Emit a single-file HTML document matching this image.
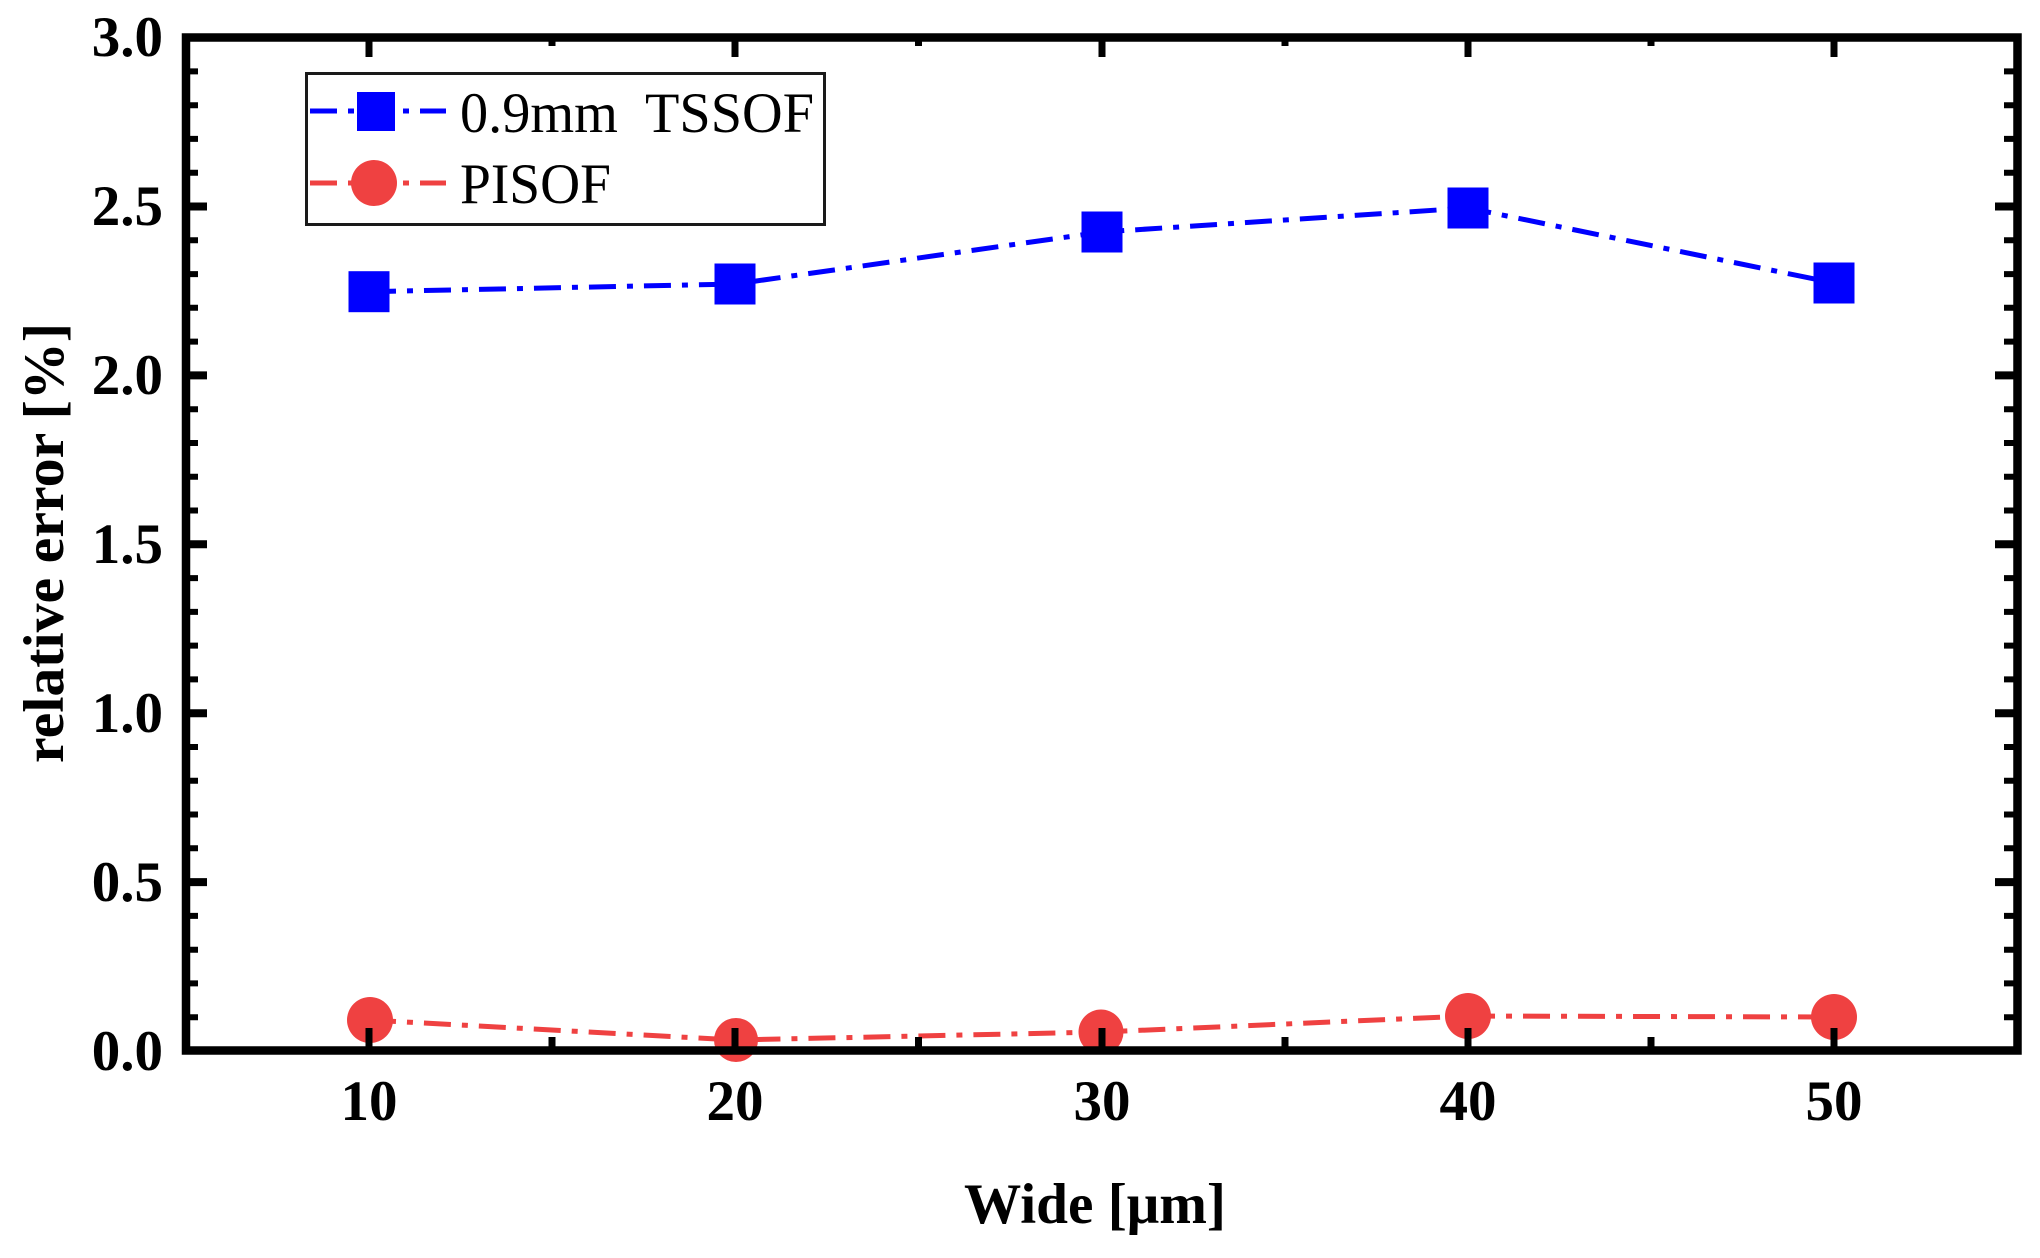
<!DOCTYPE html>
<html>
<head>
<meta charset="utf-8">
<style>
  html, body { margin: 0; padding: 0; background: #ffffff; }
  svg { display: block; }
  text { font-family: "Liberation Serif", "Times New Roman", serif; fill: #000; }
</style>
</head>
<body>
<svg width="2040" height="1258" viewBox="0 0 2040 1258" xmlns="http://www.w3.org/2000/svg">
  <rect x="0" y="0" width="2040" height="1258" fill="#ffffff"/>

  <!-- series lines -->
  <polyline points="369,291.7 735,284 1102,232 1468,208 1834,283" fill="none" stroke="#0000ff" stroke-width="5" stroke-dasharray="27 11 6 11"/>
  <polyline points="369,1020 735,1040 1102,1032 1468,1016 1834,1017" fill="none" stroke="#ef4141" stroke-width="5" stroke-dasharray="27 11 6 11"/>

  <!-- blue squares -->
  <g fill="#0000ff">
    <rect x="348.5" y="271.2" width="41" height="41"/>
    <rect x="714.5" y="263.5" width="41" height="41"/>
    <rect x="1081.5" y="211.5" width="41" height="41"/>
    <rect x="1447.5" y="187.5" width="41" height="41"/>
    <rect x="1813.5" y="262.5" width="41" height="41"/>
  </g>
  <!-- red circles -->
  <g fill="#ef4141">
    <circle cx="370" cy="1020" r="23"/>
    <circle cx="736" cy="1040" r="22"/>
    <circle cx="1101" cy="1032" r="22.5"/>
    <circle cx="1468" cy="1016" r="23"/>
    <circle cx="1834" cy="1017" r="23"/>
  </g>

  <!-- frame -->
  <rect x="186" y="37.5" width="1831.5" height="1013" fill="none" stroke="#000" stroke-width="8.5"/>

  <!-- ticks -->
  <g stroke="#000" fill="none">
    <path stroke-width="6" d="M186 1017.2h12M186 983.4h12M186 949.7h12M186 915.9h12M186 848.3h12M186 814.5h12M186 780.8h12M186 747h12M186 679.4h12M186 645.6h12M186 611.9h12M186 578.1h12M186 510.5h12M186 476.7h12M186 443h12M186 409.2h12M186 341.6h12M186 307.8h12M186 274.1h12M186 240.3h12M186 172.7h12M186 138.9h12M186 105.2h12M186 71.4h12"/>
    <path stroke-width="8" d="M186 882.1h21M186 713.2h21M186 544.3h21M186 375.4h21M186 206.5h21"/>
    <path stroke-width="6" d="M2017 1017.2h-13M2017 983.4h-13M2017 949.7h-13M2017 915.9h-13M2017 848.3h-13M2017 814.5h-13M2017 780.8h-13M2017 747h-13M2017 679.4h-13M2017 645.6h-13M2017 611.9h-13M2017 578.1h-13M2017 510.5h-13M2017 476.7h-13M2017 443h-13M2017 409.2h-13M2017 341.6h-13M2017 307.8h-13M2017 274.1h-13M2017 240.3h-13M2017 172.7h-13M2017 138.9h-13M2017 105.2h-13M2017 71.4h-13"/>
    <path stroke-width="8" d="M2017 882.1h-22M2017 713.2h-22M2017 544.3h-22M2017 375.4h-22M2017 206.5h-22"/>
    <path stroke-width="7" d="M369 1050v-22M735 1050v-22M1102 1050v-22M1468 1050v-22M1834 1050v-22"/>
    <path stroke-width="7" d="M552 1050v-13M918.5 1050v-13M1285 1050v-13M1651 1050v-13"/>
    <path stroke-width="7" d="M369 38v19M735 38v19M1102 38v19M1468 38v19M1834 38v19"/>
    <path stroke-width="7" d="M552 38v8M918.5 38v8M1285 38v8M1651 38v8"/>
  </g>

  <!-- y tick labels -->
  <g font-size="57" font-weight="bold" text-anchor="end">
    <text x="163" y="56">3.0</text>
    <text x="163" y="225">2.5</text>
    <text x="163" y="394">2.0</text>
    <text x="163" y="563">1.5</text>
    <text x="163" y="732">1.0</text>
    <text x="163" y="901">0.5</text>
    <text x="163" y="1070">0.0</text>
  </g>

  <!-- x tick labels -->
  <g font-size="57" font-weight="bold" text-anchor="middle">
    <text x="369" y="1120">10</text>
    <text x="735" y="1120">20</text>
    <text x="1102" y="1120">30</text>
    <text x="1468" y="1120">40</text>
    <text x="1834" y="1120">50</text>
  </g>

  <!-- axis titles -->
  <text x="1095" y="1223" font-size="57" font-weight="bold" text-anchor="middle" textLength="262" lengthAdjust="spacingAndGlyphs">Wide [μm]</text>
  <text transform="translate(63,543) rotate(-90)" x="0" y="0" font-size="57" font-weight="bold" text-anchor="middle" textLength="440" lengthAdjust="spacingAndGlyphs">relative error [%]</text>

  <!-- legend -->
  <rect x="306.5" y="73.5" width="518" height="151" fill="#ffffff" stroke="#1a1a1a" stroke-width="3"/>
  <line x1="310" y1="111" x2="446" y2="111" stroke="#0000ff" stroke-width="5" stroke-dasharray="27 11 6 11"/>
  <rect x="357" y="92" width="38" height="39" fill="#0000ff"/>
  <text x="460" y="132" font-size="57" textLength="354" lengthAdjust="spacingAndGlyphs" xml:space="preserve">0.9mm  TSSOF</text>
  <line x1="310" y1="183" x2="446" y2="183" stroke="#ef4141" stroke-width="5" stroke-dasharray="27 11 6 11"/>
  <circle cx="374" cy="183" r="23" fill="#ef4141"/>
  <text x="460" y="203" font-size="57" textLength="151" lengthAdjust="spacingAndGlyphs">PISOF</text>
</svg>
</body>
</html>
